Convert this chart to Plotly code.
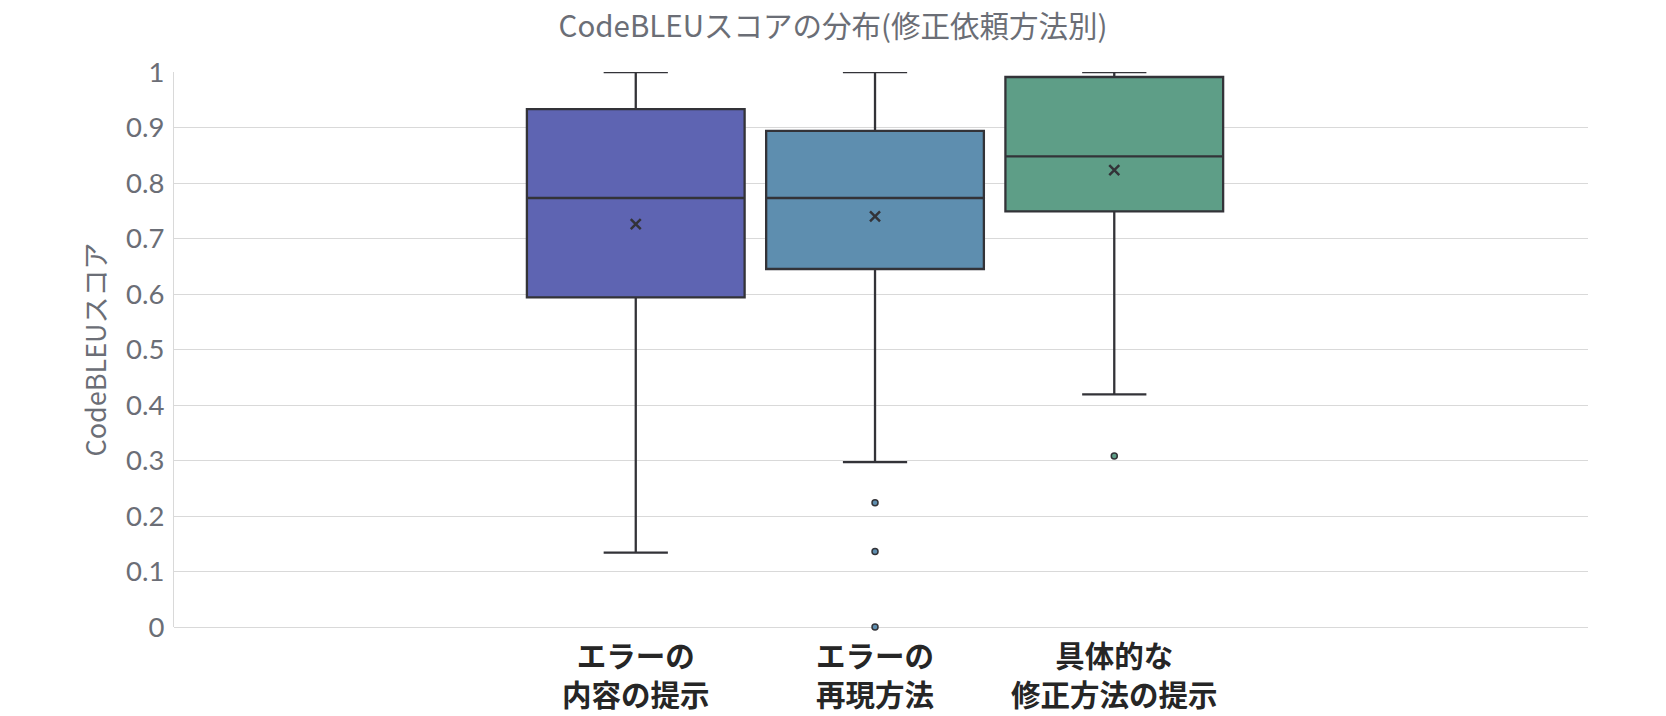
import plotly.graph_objects as go

categories = ["エラーの<br>内容の提示", "エラーの<br>再現方法", "具体的な<br>修正方法の提示"]
lower_whisker = [0.134, 0.297, 0.419]
q1_values = [0.594, 0.645, 0.749]
median_values = [0.773, 0.773, 0.848]
q3_values = [0.933, 0.894, 0.991]
upper_whisker = [1.0, 1.0, 1.0]
mean_values = [0.726, 0.740, 0.823]
outliers = [[], [0.224, 0.136, 0.0], [0.308]]
box_colors = ["#5e64b2", "#5e8eaf", "#5e9e87"]

title_text = "CodeBLEUスコアの分布(修正依頼方法別)"
y_title = "CodeBLEUスコア"
y_ticks = [0, 0.1, 0.2, 0.3, 0.4, 0.5, 0.6, 0.7, 0.8, 0.9, 1]
y_tick_labels = ["0", "0.1", "0.2", "0.3", "0.4", "0.5", "0.6", "0.7", "0.8", "0.9", "1"]

line_col = "#333338"
gray_text = "#6b6e76"

fig = go.Figure()
for i, cat in enumerate(categories):
    fig.add_trace(go.Box(
        x=[cat],
        q1=[q1_values[i]], median=[median_values[i]], q3=[q3_values[i]],
        lowerfence=[lower_whisker[i]], upperfence=[upper_whisker[i]],
        fillcolor=box_colors[i],
        line=dict(color=line_col, width=2.3),
        width=0.91,
        whiskerwidth=0.295,
        boxpoints=False,
        showlegend=False,
        hoverinfo="skip",
    ))
    if outliers[i]:
        fig.add_trace(go.Scatter(
            x=[cat] * len(outliers[i]), y=outliers[i], mode="markers",
            marker=dict(symbol="circle", size=6, color=box_colors[i],
                        line=dict(color=line_col, width=1.5)),
            showlegend=False, hoverinfo="skip", cliponaxis=False,
        ))
    fig.add_trace(go.Scatter(
        x=[cat], y=[mean_values[i]], mode="markers",
        marker=dict(symbol="x-thin", size=10, color=line_col,
                    line=dict(color=line_col, width=2.5)),
        showlegend=False, hoverinfo="skip",
    ))

fig.update_layout(
    width=1666, height=716,
    margin=dict(l=174, r=78, t=72, b=89, pad=0),
    paper_bgcolor="white", plot_bgcolor="white",
    boxmode="overlay",
    title=dict(text=title_text, x=0.5, xanchor="center", y=1 - 27 / 716, yanchor="middle",
               yref="container",
               font=dict(family="Noto Sans CJK JP", size=29.5, color=gray_text)),
)
fig.update_xaxes(
    type="category", categoryorder="array", categoryarray=categories,
    range=[-1.93, 3.98], automargin=False,
    showgrid=False, zeroline=False, showline=False,
    ticks="outside", ticklen=4, tickcolor="rgba(0,0,0,0)",
    tickfont=dict(family="Noto Sans CJK JP", size=29.5, color="#262626", weight="bold"),
)
fig.update_yaxes(
    range=[0, 1], tickvals=y_ticks, ticktext=y_tick_labels, automargin=False,
    showgrid=True, gridcolor="#d9d9d9", gridwidth=1,
    zeroline=True, zerolinecolor="#d9d9d9", zerolinewidth=1,
    showline=True, linecolor="#d9d9d9", linewidth=1,
    ticks="outside", ticklen=3, tickcolor="rgba(0,0,0,0)",
    tickfont=dict(family="Lato", size=27.5, color=gray_text),
    title=dict(text=y_title, standoff=11,
               font=dict(family="Noto Sans CJK JP", size=27, color=gray_text)),
)

fig.write_html("out.html")
